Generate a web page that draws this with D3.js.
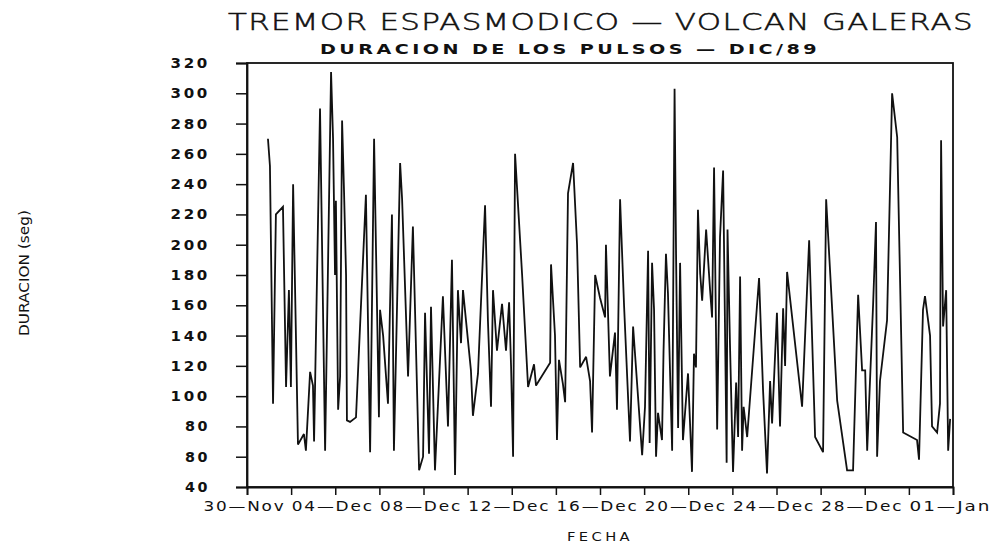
<!DOCTYPE html>
<html><head><meta charset="utf-8">
<script src="https://cdn.jsdelivr.net/npm/d3@7"></script>
<style>
html,body{margin:0;padding:0;background:#fff;}
svg text{font-family:"DejaVu Sans",sans-serif;fill:#111;}
</style></head>
<body><svg id="c" width="996" height="544"></svg>
<script>
// ---- data ----
const startDate = Date.UTC(1989, 10, 30); // 30-Nov-1989
// days since 30-Nov
const days = [0.95,1.04,1.18,1.31,1.63,1.77,1.90,1.99,2.09,2.31,2.58,2.67,2.86,2.99,3.04,3.31,3.54,3.81,3.90,3.99,4.03,4.13,4.22,4.31,4.40,4.49,4.53,4.67,4.94,5.39,5.58,5.76,5.98,6.03,6.17,6.39,6.57,6.66,6.94,7.03,7.30,7.52,7.80,7.98,8.07,8.25,8.34,8.52,8.88,9.11,9.29,9.43,9.56,9.70,9.79,10.15,10.24,10.47,10.79,10.92,11.06,11.15,11.33,11.56,11.74,11.88,11.97,12.06,12.15,12.47,12.74,13.01,13.10,13.74,13.78,13.96,14.05,14.14,14.32,14.42,14.55,14.78,14.96,15.10,15.37,15.55,15.64,15.78,16.00,16.23,16.27,16.45,16.68,16.77,16.91,17.09,17.36,
  17.50,17.91,18.04,18.18,18.25,18.36,18.45,18.54,18.63,18.81,18.88,18.99,19.08,19.27,19.38,19.45,19.54,19.63,19.76,19.99,20.17,20.26,20.35,20.44,20.54,20.63,20.81,20.99,21.08,21.17,21.31,21.44,21.58,21.74,21.78,21.89,22.03,22.17,22.26,22.35,22.44,22.51,22.67,
  23.21,23.39,23.57,23.71,23.80,24.02,24.16,24.30,24.39,24.48,25.16,25.48,25.75,26.11,26.25,26.75,27.20,27.47,27.70,27.88,28.02,28.11,28.38,28.51,28.56,28.69,29.01,29.24,29.47,29.74,30.37,30.46,30.64,30.73,30.96,31.05,31.28,31.41,31.46,31.55,31.69,31.78,31.87];
// pulse duration (seg)
const duracion = [270,252,95,220,225,106,170,106,240,68,75,64,116,107,70,290,64,314,270,180,229,91,113,282,234,180,84,83,86,233,63,270,86,157,140,95,220,64,254,230,113,212,51,60,155,62,159,51,166,80,190,48,170,135,170,117,87,115,226,150,93,170,130,161,130,162,119,60,260,180,106,121,107,122,187,140,71,124,108,96,234,254,200,119,126,110,76,180,165,152,200,113,142,91,230,160,70,
  146,61,93,196,69,188,157,60,89,71,130,194,168,64,303,190,79,188,71,115,50,128,119,223,181,163,210,170,152,251,78,205,249,56,210,135,50,109,73,179,64,93,73,
  178,104,49,110,82,155,80,158,120,182,93,203,73,63,230,97,51,51,167,117,117,64,161,215,60,110,150,300,271,76,71,58,157,166,140,80,76,95,269,146,170,64,85];
const yTickValues = [40,60,80,100,120,140,160,180,200,220,240,260,280,300,320];
const yTickLabels = ["40","80","80","100","120","140","160","180","200","220","240","260","280","300","320"];
const xTickLabels = ["30—Nov","04—Dec","08—Dec","12—Dec","16—Dec","20—Dec","24—Dec","28—Dec","01—Jan"];
const titleText = "TREMOR ESPASMODICO — VOLCAN GALERAS";
const subtitleText = "DURACION DE LOS PULSOS — DIC/89";
const yTitle = "DURACION (seg)";
const xTitle = "FECHA";

// ---- chart ----
const svg = d3.select("#c");
const L = 247, R = 953, T = 63, B = 487;
const toDate = d => new Date(startDate + d * 86400000);
const x = d3.scaleUtc().domain([toDate(0), toDate(32)]).range([L, R]);
const y = d3.scaleLinear().domain([40, 320]).range([B, T]);

// frame
svg.append("rect").attr("x", L).attr("y", T).attr("width", R - L).attr("height", B - T)
  .attr("fill", "none").attr("stroke", "#111").attr("stroke-width", 1.8);

// y axis
const yAxis = d3.axisLeft(y).tickValues(yTickValues).tickSize(11)
  .tickFormat((d, i) => yTickLabels[i]).tickPadding(26);
const gy = svg.append("g").attr("transform", `translate(${L},0)`).call(yAxis);
gy.select(".domain").attr("stroke", "#111").attr("stroke-width", 1.8);
gy.selectAll(".tick line").attr("stroke", "#111").attr("stroke-width", 1.5);
gy.selectAll(".tick text").attr("font-size", 14).attr("font-weight", "bold")
  .attr("font-family", "DejaVu Sans").attr("fill", "#111")
  .style("letter-spacing", "2.5px")
  .attr("textLength", function(d, i){ return yTickLabels[i].length * 14.5 - 4; })
  .attr("lengthAdjust", "spacingAndGlyphs");

// x axis
const xTickDates = d3.range(0, 33, 2).map(toDate);
const xAxis = d3.axisBottom(x).tickValues(xTickDates).tickSize(8)
  .tickFormat((d, i) => i % 2 === 0 ? xTickLabels[i / 2] : "").tickPadding(6);
const gx = svg.append("g").attr("transform", `translate(0,${B})`).call(xAxis);
gx.select(".domain").attr("stroke", "#111").attr("stroke-width", 1.8);
gx.selectAll(".tick line").attr("stroke", "#111").attr("stroke-width", 1.5);
gx.selectAll(".tick text").attr("font-size", 14).attr("font-family", "DejaVu Sans").attr("fill", "#111")
  .attr("dx", -3).style("letter-spacing", "1.5px")
  .attr("textLength", function(d, i){ return i % 2 === 0 ? 82 : null; })
  .attr("lengthAdjust", "spacingAndGlyphs");

// line
const data = days.map((d, i) => ({date: toDate(d), v: duracion[i]}));
const line = d3.line().x(d => x(d.date)).y(d => y(d.v));
svg.append("path").datum(data).attr("d", line)
  .attr("fill", "none").attr("stroke", "#111").attr("stroke-width", 1.8)
  .attr("stroke-linejoin", "miter").attr("stroke-miterlimit", 3);

// titles
svg.append("text").attr("x", 601).attr("y", 30).attr("text-anchor", "middle")
  .attr("font-size", 23).attr("font-weight", 200).style("letter-spacing", "1px")
  .attr("stroke", "#111").attr("stroke-width", 0.5)
  .attr("textLength", 746).attr("lengthAdjust", "spacingAndGlyphs")
  .text(titleText);
svg.append("text").attr("x", 570).attr("y", 54).attr("text-anchor", "middle")
  .attr("font-size", 14).attr("font-weight", "bold").style("letter-spacing", "2.5px")
  .attr("textLength", 500).attr("lengthAdjust", "spacingAndGlyphs")
  .text(subtitleText);
svg.append("text").attr("x", 600).attr("y", 541).attr("text-anchor", "middle")
  .attr("font-size", 13).style("letter-spacing", "3px")
  .attr("textLength", 66).attr("lengthAdjust", "spacingAndGlyphs")
  .text(xTitle);
svg.append("text").attr("transform", "translate(29,273) rotate(-90)").attr("text-anchor", "middle")
  .attr("font-size", 14).attr("textLength", 126).attr("lengthAdjust", "spacingAndGlyphs")
  .text(yTitle);
</script></body></html>
